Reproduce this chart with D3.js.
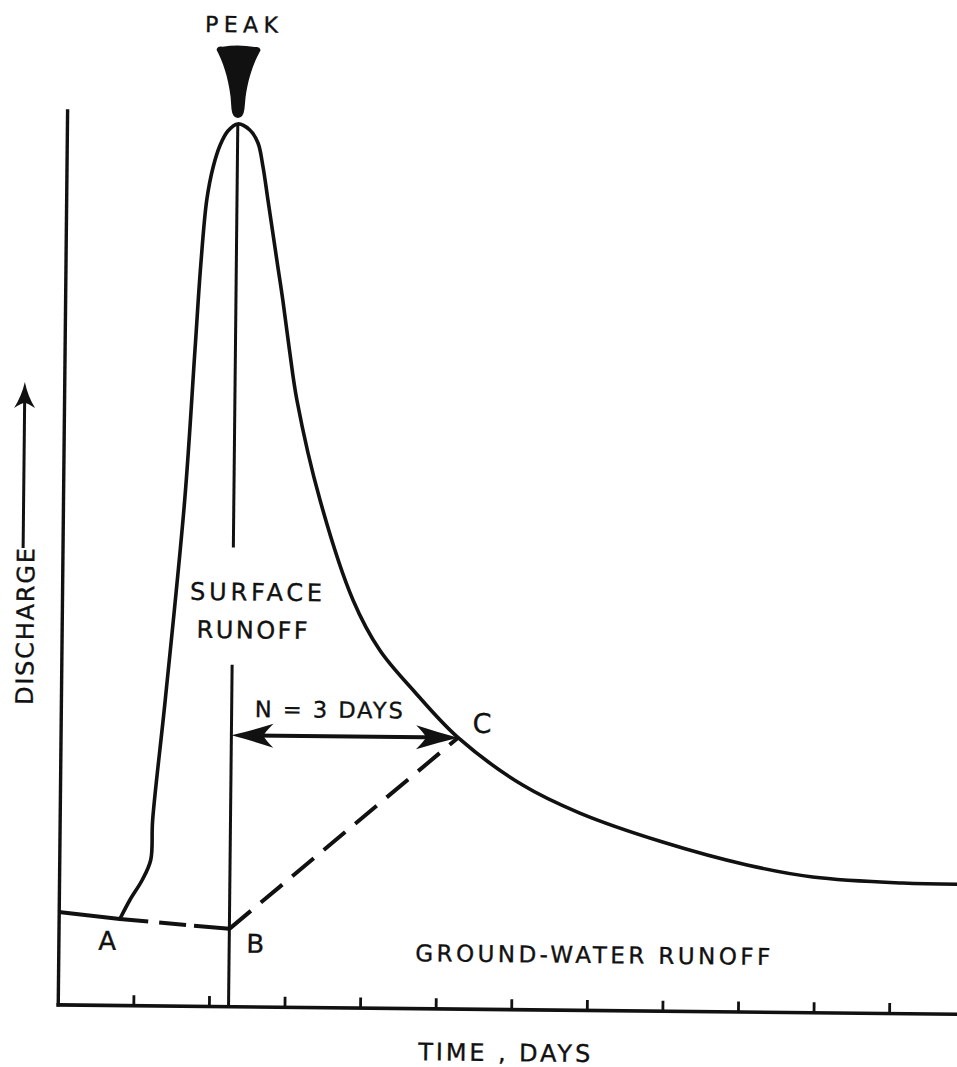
<!DOCTYPE html>
<html>
<head>
<meta charset="utf-8">
<script src="https://cdn.jsdelivr.net/npm/d3@7"></script>
<style>
  html, body { margin: 0; background: #fff; }
  svg { display: block; }
</style>
</head>
<body>
<svg id="chart" width="957" height="1067"></svg>
<script>
// Day ticks along the time axis
const tickDays = [1, 2, 3, 4, 5, 6, 7, 8, 9, 10, 11];

// Stream hydrograph: time in days, discharge in relative units (0-100)
const hydroDays = [0.81, 0.94, 1.10, 1.21, 1.23, 1.38, 1.61, 1.725, 1.79, 1.86, 1.94, 2.03, 2.13, 2.26,
                   2.42, 2.53, 2.60, 2.67, 2.81, 2.88, 2.975, 3.08, 3.40, 3.85, 4.21, 4.68, 5.26,
                   6.12, 6.88, 7.98, 9.10, 9.97, 11.16, 12.0];
const hydroQ    = [9.62, 11.76, 14.01, 16.26, 20.73, 34.17, 56.57, 73.36, 82.9, 90.15, 93.85, 96.32, 97.89, 98.69,
                   98.03, 96.58, 93.9, 90.2, 82.74, 79.05, 73.47, 67.88, 56.72, 45.58, 40.01, 35.36, 30.3,
                   25.08, 22.01, 18.87, 16.4, 15.13, 14.56, 14.5];

// Ground-water base flow before the storm: axis, point A, point B
const baseDays = [0, 0.81, 2.26];
const baseQ    = [10.33, 9.62, 8.65];

// Key points: peak, B (under the peak), C (N days after the peak)
const peakDay = 2.26, peakQ = 98.69;
const recessionDays = 3;
const pointB = [2.26, 8.65];
const pointC = [peakDay + recessionDays, 30.3];

// Break in the peak line where the "SURFACE RUNOFF" label sits
const labelGapQ = [38.2, 51.3];

const ink = "#111";
const svg = d3.select("#chart");
svg.append("rect").attr("width", 957).attr("height", 1067).attr("fill", "#fff");

const x = d3.scaleLinear().domain([0, 12]).range([62, 969]);
const y = d3.scaleLinear().domain([0, 100]).range([1009, 115]);

// the whole drawing sits slightly turned on the sheet
const g = svg.append("g").attr("transform", "rotate(0.6 500 600)");

// ---- axes ----
const xAxis = g.append("g")
  .attr("transform", `translate(0,${y(0)})`)
  .call(d3.axisBottom(x).tickValues(tickDays).tickSize(-10).tickSizeOuter(0).tickFormat(() => ""));
xAxis.select(".domain").attr("stroke", ink).attr("stroke-width", 3.6).attr("stroke-linecap", "square");
xAxis.selectAll(".tick line").attr("stroke", ink).attr("stroke-width", 2.8);

const yAxis = g.append("g")
  .attr("transform", `translate(${x(0)},0)`)
  .call(d3.axisLeft(y).tickValues([]).tickSizeOuter(0));
yAxis.select(".domain").attr("stroke", ink).attr("stroke-width", 3.4).attr("stroke-linecap", "square");

// ---- base flow line (solid, then dashed to B) ----
const line = d3.line().x(d => x(d[0])).y(d => y(d[1]));
g.append("path")
  .datum(baseDays.map((d, i) => [d, baseQ[i]]))
  .attr("d", line)
  .attr("fill", "none").attr("stroke", ink).attr("stroke-width", 4)
  .attr("stroke-dasharray", "90,11,27,8,60");

// ---- separation line B to C ----
g.append("path")
  .datum([pointB, pointC])
  .attr("d", line)
  .attr("fill", "none").attr("stroke", ink).attr("stroke-width", 4)
  .attr("stroke-dasharray", "28,13");

// ---- hydrograph ----
const curve = d3.line().x(d => x(d[0])).y(d => y(d[1])).curve(d3.curveCatmullRom.alpha(0.5));
g.append("path")
  .datum(hydroDays.map((d, i) => [d, hydroQ[i]]))
  .attr("d", curve)
  .attr("fill", "none").attr("stroke", ink).attr("stroke-width", 3.6)
  .attr("stroke-linejoin", "round");

// ---- vertical line through the peak ----
g.append("line")
  .attr("x1", x(peakDay)).attr("x2", x(peakDay))
  .attr("y1", y(peakQ)).attr("y2", y(labelGapQ[1]))
  .attr("stroke", ink).attr("stroke-width", 3);
g.append("line")
  .attr("x1", x(peakDay)).attr("x2", x(peakDay))
  .attr("y1", y(labelGapQ[0])).attr("y2", y(0))
  .attr("stroke", ink).attr("stroke-width", 3);

// ---- peak marker ----
g.append("path")
  .attr("transform", `translate(${x(peakDay)},${y(peakQ) - 77})`)
  .attr("d", "M-22,3 Q-21,-1 -16,0 Q0,-3 16,0 Q21,-1 22,3 C16,14 10,30 7.5,50 L6.5,62 Q5.5,71 0,71 Q-5.5,71 -6.5,62 L-7.5,50 C-10,30 -16,14 -22,3 Z")
  .attr("fill", ink);

// ---- N-day double arrow from the peak line to C ----
const arrowY = y(pointC[1]);
const headLeft = "M0,0 Q20,-5 42,-12 Q34,-4 32,0 Q34,4 42,12 Q20,5 0,0 Z";
g.append("line")
  .attr("x1", x(peakDay) + 10).attr("x2", x(pointC[0]) - 10)
  .attr("y1", arrowY).attr("y2", arrowY)
  .attr("stroke", ink).attr("stroke-width", 4);
g.append("path").attr("d", headLeft).attr("fill", ink)
  .attr("transform", `translate(${x(peakDay)},${arrowY})`);
g.append("path").attr("d", headLeft).attr("fill", ink)
  .attr("transform", `translate(${x(pointC[0])},${arrowY}) scale(-1,1)`);

// ---- discharge arrow on the left ----
g.append("line")
  .attr("x1", 22.6).attr("x2", 22.6).attr("y1", 553).attr("y2", 400)
  .attr("stroke", ink).attr("stroke-width", 3);
g.append("path")
  .attr("transform", "translate(22.6,387)")
  .attr("d", "M0,0 Q3,14 10.5,26 Q3,21 0,21 Q-3,21 -10.5,26 Q-3,14 0,0 Z")
  .attr("fill", ink);

// ---- lettering ----
const font = "'DejaVu Sans', 'Liberation Sans', sans-serif";
function label(txt, x0, y0, size, len, rotate) {
  const t = g.append("text")
    .attr("x", x0).attr("y", y0)
    .attr("font-family", font).attr("font-size", size)
    .attr("fill", ink)
    .attr("stroke", ink).attr("stroke-width", 0.35)
    .text(txt);
  if (len) t.attr("textLength", len).attr("lengthAdjust", "spacing");
  if (rotate) t.attr("transform", `rotate(${rotate} ${x0} ${y0})`);
  return t;
}
label("PEAK", 199, 35, 22, 73);
label("SURFACE", 190, 603, 24, 132);
label("RUNOFF", 197, 641, 24, 111);
label("N = 3 DAYS", 256, 719.5, 22.5, 148);
label("C", 474, 733, 27);
label("A", 102, 954, 26);
label("B", 250, 955.5, 26);
label("GROUND-WATER RUNOFF", 419, 962, 23, 355);
label("TIME , DAYS", 423, 1061, 24, 172);
label("DISCHARGE", 34, 710, 24, 157, -90);
</script>
</body>
</html>
